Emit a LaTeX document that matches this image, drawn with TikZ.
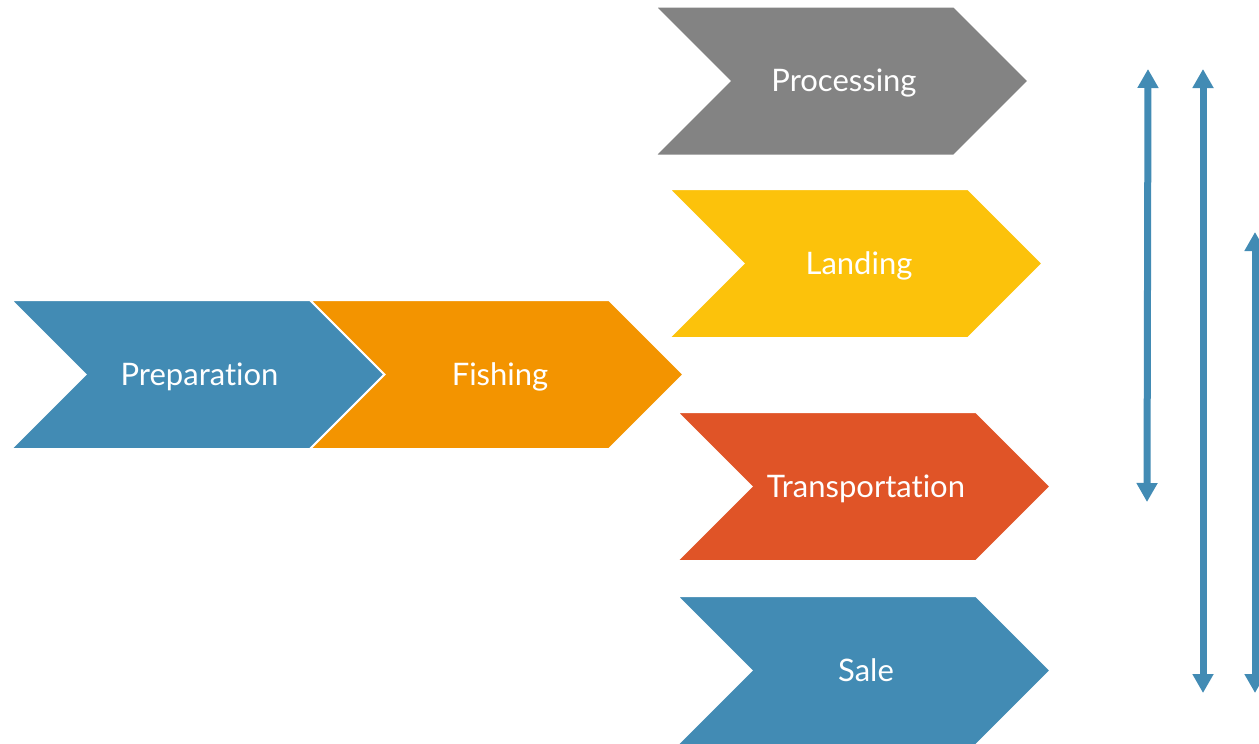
\documentclass[tikz,border=0pt]{standalone}
\usepackage{fontspec}
\setmainfont[Ligatures={NoCommon,NoRare,NoDiscretionary}]{Lato}
\usetikzlibrary{arrows.meta}
\definecolor{cblue}{RGB}{66,139,180}
\definecolor{corange}{RGB}{243,148,0}
\definecolor{cyellow}{RGB}{252,194,11}
\definecolor{cred}{RGB}{224,84,39}
\definecolor{cgray}{RGB}{131,131,131}
\newcommand{\chevshape}[3]{% visible left, visible top, colour
  \filldraw[chev,fill=#3] (#1-1,#2-1) -- ++(299,0) -- ++(74.5,74.5) -- ++(-74.5,74.5)
    -- ++(-299,0) -- ++(74.5,-74.5) -- cycle;}
\tikzset{
  chev/.style={draw=white,line width=2pt,line join=miter},
  label/.style={text=white,font=\fontsize{31}{36}\selectfont,anchor=base,inner sep=0pt},
  dbl/.style={draw=cblue,line width=7pt,{Triangle[width=20pt,length=19pt]}-{Triangle[width=20pt,length=19pt]}}
}
\begin{document}
\begin{tikzpicture}[x=1pt,y=-1pt]
\useasboundingbox (0,0) rectangle (1259,744);
\chevshape{12}{301}{cblue}
\chevshape{311}{301}{corange}
\chevshape{656}{7.5}{cgray}
\chevshape{670}{190}{cyellow}
\chevshape{678}{413}{cred}
\chevshape{678}{597}{cblue}
\node[label] (prep) at (199.5,385) {Preparation};
\node[label] (fish) at (500,385) {Fishing};
\node[label] (proc) at (844,91) {Processing};
\node[label] (land) at (859,274) {Landing};
\node[label] (trans) at (866,497) {Transportation};
\node[label] (sale) at (866,681) {Sale};
\coordinate (a1t) at (1148,69);
\coordinate (a1b) at (1147,502);
\coordinate (a2t) at (1203,69);
\coordinate (a2b) at (1203,693);
\coordinate (a3t) at (1255,232);
\coordinate (a3b) at (1255,693);
\draw[dbl] (a1t) -- (a1b);
\draw[dbl] (a2t) -- (a2b);
\draw[dbl] (a3t) -- (a3b);
\end{tikzpicture}
\end{document}
